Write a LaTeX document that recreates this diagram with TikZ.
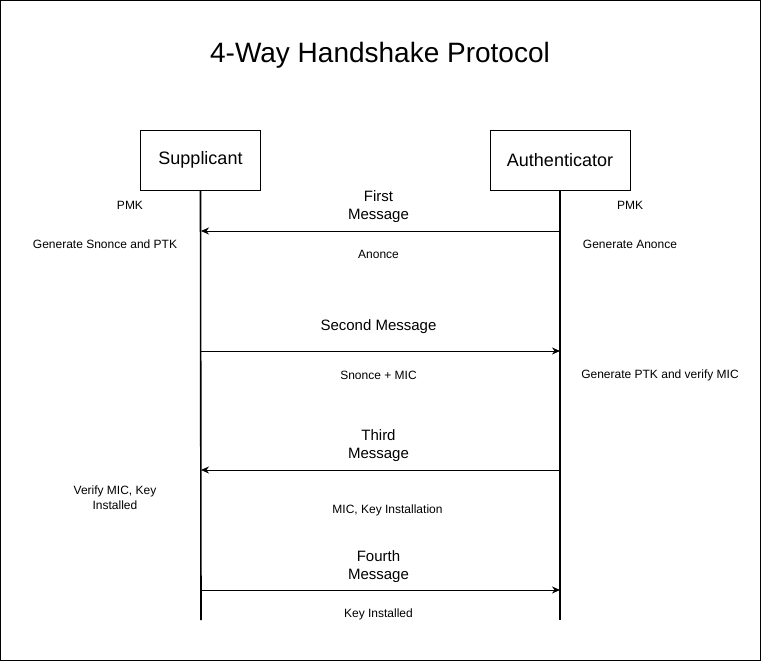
\documentclass[tikz,border=0pt]{standalone}
\usepackage{fontspec}
\setmainfont{Liberation Sans}
\usetikzlibrary{arrows.meta}
\pgfdeclarelayer{edgelayer}
\pgfdeclarelayer{nodelayer}
\pgfsetlayers{edgelayer,nodelayer,main}
\tikzstyle{actor}=[rectangle,fill=white,draw=black,line width=1pt,minimum height=60pt,font=\fontsize{18}{21}\selectfont]
\tikzstyle{note}=[align=center,font=\fontsize{12}{15}\selectfont]
\tikzstyle{msglabel}=[align=center,font=\fontsize{15}{18}\selectfont]
\tikzstyle{lifeline}=[draw=black,line width=1.6pt]
\tikzstyle{message}=[-{Stealth[length=8pt,width=7pt]},draw=black,line width=1pt]

\begin{document}
\begin{tikzpicture}[x=1pt,y=-1pt]
	\useasboundingbox (0,0) rectangle (761,661);
	\draw [line width=1pt] (0.5,0.5) rectangle (760.5,660.5);
	\begin{pgfonlayer}{nodelayer}
		\node [font=\fontsize{28}{32}\selectfont] (0) at (380, 55) {4-Way Handshake Protocol};
		\node [style=actor, minimum width=120pt] (1) at (200.5, 160) {Supplicant};
		\node [style=actor, minimum width=140pt] (2) at (560, 160) {Authenticator};
		\node [style=note] (3) at (130, 205) {PMK};
		\node [style=note] (4) at (105, 244.5) {Generate Snonce and PTK};
		\node [style=note] (5) at (115, 497.5) {Verify MIC, Key\\Installed};
		\node [style=note] (6) at (630, 205) {PMK};
		\node [style=note] (7) at (630, 244.5) {Generate Anonce};
		\node [style=note] (8) at (660, 375.5) {Generate PTK and verify MIC};
	\end{pgfonlayer}
	\coordinate (s0) at (201, 620);
	\coordinate (s1) at (201, 231);
	\coordinate (s2) at (201, 351);
	\coordinate (s3) at (201, 470);
	\coordinate (s4) at (201, 590);
	\coordinate (a0) at (560, 620);
	\coordinate (a1) at (560, 231);
	\coordinate (a2) at (560, 351);
	\coordinate (a3) at (560, 470);
	\coordinate (a4) at (560, 590);
	\begin{pgfonlayer}{edgelayer}
		\draw [style=lifeline] (1.south) to (s0);
		\draw [style=lifeline] (2.south) to (a0);
		\draw [style=message] (a1) to node[msglabel, yshift=24pt, xshift=-2pt]{First\\Message} node[note, yshift=-23.5pt, xshift=-2pt]{Anonce} (s1);
		\draw [style=message] (s2) to node[msglabel, yshift=24pt, xshift=-2pt]{Second Message} node[note, yshift=-24.5pt, xshift=-2pt]{Snonce + MIC} (a2);
		\draw [style=message] (a3) to node[msglabel, yshift=24pt, xshift=-2pt]{Third\\Message} node[note, yshift=-40pt, xshift=7pt]{MIC, Key Installation} (s3);
		\draw [style=message] (s4) to node[msglabel, yshift=23pt, xshift=-2pt]{Fourth\\Message} node[note, yshift=-24.5pt, xshift=-2pt]{Key Installed} (a4);
	\end{pgfonlayer}
\end{tikzpicture}
\end{document}
